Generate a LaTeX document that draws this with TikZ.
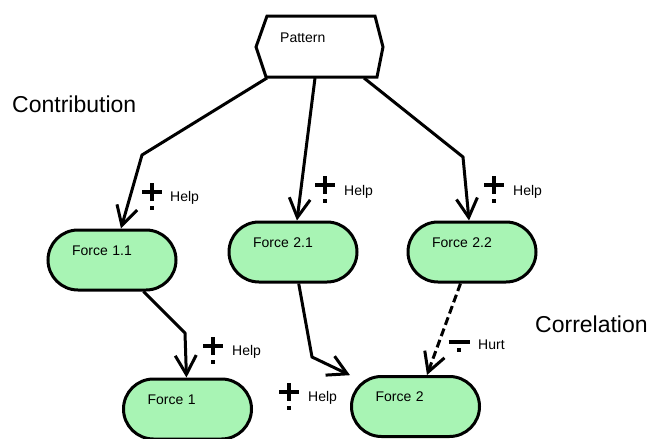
\documentclass[tikz,border=0pt]{standalone}
\usepackage{fontspec}
\setmainfont{Liberation Sans}
\usetikzlibrary{arrows.meta}
\definecolor{forcefill}{RGB}{168,244,180}
\begin{document}
\begin{tikzpicture}[x=1pt,y=-1pt,
  force/.style={draw, line width=3pt, fill=forcefill, rounded corners=30pt,
    minimum width=128pt, minimum height=60pt, text width=80pt, align=left,
    text height=10pt, text depth=20pt, inner sep=0pt,
    font=\fontsize{14}{16}\selectfont},
  link/.style={line width=3pt, line join=miter,
    -{Straight Barb[length=19pt,width=21pt]}},
  small/.style={anchor=base west, inner sep=0pt, font=\fontsize{14}{16}\selectfont},
  big/.style={anchor=base west, inner sep=0pt, font=\fontsize{23}{26}\selectfont},
  helpmark/.pic={
    \draw[line width=4pt] (-10,0) -- (10,0);
    \draw[line width=4pt] (0,-9) -- (0,9);
    \fill (-2,14) rectangle (2,18);
  },
  hurtmark/.pic={
    \draw[line width=4pt] (-10.5,0) -- (10.5,0);
    \fill (-2,6) rectangle (2,10);
  }]
\fill[white] (0,0) rectangle (648,439);
\useasboundingbox (0,0) rectangle (648,439);

% pattern hexagon
\draw[line width=3pt, line join=miter]
  (267,16) -- (375,16) -- (383,47) -- (377,77) -- (266,77) -- (256,47) -- cycle;
\node[small] (pattern) at (280,42) {Pattern};
\coordinate (pa) at (267,78);
\coordinate (pb) at (315,78);
\coordinate (pc) at (364,78);

% forces
\node[force] (f11) at (112,260) {Force 1.1};
\node[force] (f21) at (293,252) {Force 2.1};
\node[force] (f22) at (472,252) {Force 2.2};
\node[force] (f1)  at (187.5,409) {Force 1};
\node[force] (f2)  at (415.5,406.5) {Force 2};

% bend points
\coordinate (b1) at (142,155);
\coordinate (b3) at (463,157);
\coordinate (b4) at (185,333);
\coordinate (b5) at (312,357);

% contribution links
\draw[link] (pa) -- (b1) -- (f11);
\draw[link] (pb) -- (f21);
\draw[link] (pc) -- (b3) -- (f22);

% correlation links
\draw[link] (f11) -- (b4) -- (f1);
\draw[link] (f21) -- (b5) -- (f2);
\draw[link, dash pattern=on 8pt off 4pt] (f22) -- (f2);

% link labels
\pic at (152,192) {helpmark};
\node[small] (h1) at (170,201) {Help};
\pic at (325,185) {helpmark};
\node[small] (h2) at (344,195) {Help};
\pic at (494,185) {helpmark};
\node[small] (h3) at (513,195) {Help};
\pic at (213,346) {helpmark};
\node[small] (h4) at (232,355) {Help};
\pic at (289,392) {helpmark};
\node[small] (h5) at (308,401) {Help};
\pic at (459,342) {hurtmark};
\node[small] (hurt) at (478,349) {Hurt};

% section titles
\node[big] (contrib) at (12,112) {Contribution};
\node[big] (correl) at (535,332) {Correlation};
\end{tikzpicture}
\end{document}
